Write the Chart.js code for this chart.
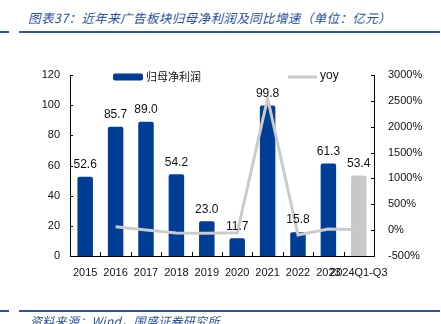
<!DOCTYPE html>
<html>
<head>
<meta charset="utf-8">
<script src="https://cdn.jsdelivr.net/npm/chart.js@4/dist/chart.umd.min.js"></script>
<style>
  html, body { margin:0; padding:0; background:#fff; }
  #wrap { position:relative; width:441px; height:324px; overflow:hidden; background:#fff; }
  #c { position:absolute; left:0; top:0; }
  .title { position:absolute; left:28px; top:8px; font:italic 12.5px "Noto Sans CJK SC", sans-serif; color:#2a4f9c; white-space:nowrap; letter-spacing:0.4px; }
  .src { position:absolute; left:30px; top:312px; font:italic 12px "Noto Sans CJK SC", sans-serif; color:#2a4f9c; white-space:nowrap; letter-spacing:0.3px; }
  .ln { position:absolute; height:2px; background:#2a56a6; }
</style>
</head>
<body>
<div id="wrap">
  <div class="title">图表37：近年来广告板块归母净利润及同比增速（单位：亿元）</div>
  <div class="ln" style="left:0;width:9px;top:31px"></div>
  <div class="ln" style="left:19px;width:421px;top:31px"></div>
  <canvas id="c" width="441" height="324"></canvas>
  <div class="ln" style="left:0;width:9px;top:310px"></div>
  <div class="ln" style="left:19px;width:421px;top:310px"></div>
  <div class="src">资料来源：Wind，国盛证券研究所</div>
</div>
<script>
const categories = ['2015','2016','2017','2018','2019','2020','2021','2022','2023','2024Q1-Q3'];
const profit = [52.6, 85.7, 89.0, 54.2, 23.0, 11.7, 99.8, 15.8, 61.3, 53.4];
const yoy = [null, 64, 4, -55, -58, -50, 2550, -95, 20, 10];
const barColors = ['#003d94','#003d94','#003d94','#003d94','#003d94','#003d94','#003d94','#003d94','#003d94','#c8c8c8'];
const seriesNames = ['归母净利润', 'yoy'];

const TICK_FONT = { family: 'Liberation Sans', size: 11 };

const overlay = {
  id: 'overlay',
  afterDatasetsDraw(chart) {
    const ctx = chart.ctx;
    const meta = chart.getDatasetMeta(0);
    ctx.save();
    ctx.font = '12px "Liberation Sans"';
    ctx.fillStyle = '#111';
    ctx.textAlign = 'center';
    ctx.textBaseline = 'middle';
    meta.data.forEach((bar, i) => {
      ctx.fillText(profit[i].toFixed(1), bar.x, bar.y - 12);
    });
    ctx.restore();
  },
  afterDraw(chart) {
    const ctx = chart.ctx;
    const ca = chart.chartArea;
    const x = chart.scales.x, y = chart.scales.y, y2 = chart.scales.y2;
    ctx.save();
    ctx.strokeStyle = '#000';
    ctx.lineWidth = 1;
    ctx.beginPath();
    y.ticks.forEach(t => {
      const py = Math.round(y.getPixelForValue(t.value)) + 0.5;
      ctx.moveTo(ca.left, py); ctx.lineTo(ca.left + 3, py);
    });
    y2.ticks.forEach(t => {
      const py = Math.round(y2.getPixelForValue(t.value)) + 0.5;
      ctx.moveTo(ca.right, py); ctx.lineTo(ca.right - 3, py);
    });
    for (let i = 0; i < categories.length - 1; i++) {
      const px = Math.round((x.getPixelForTick(i) + x.getPixelForTick(i + 1)) / 2) + 0.5;
      ctx.moveTo(px, ca.bottom); ctx.lineTo(px, ca.bottom - 4);
    }
    ctx.stroke();

    // legend
    ctx.fillStyle = barColors[0];
    ctx.beginPath();
    if (ctx.roundRect) ctx.roundRect(113, 73.5, 30, 7, 2); else ctx.rect(113, 73.5, 30, 7);
    ctx.fill();
    ctx.font = '11px "Noto Sans CJK SC"';
    ctx.fillStyle = '#111';
    ctx.textAlign = 'left';
    ctx.textBaseline = 'middle';
    ctx.fillText(seriesNames[0], 146, 77);
    ctx.strokeStyle = '#cbcbcb';
    ctx.lineWidth = 3;
    ctx.beginPath();
    ctx.moveTo(288, 77); ctx.lineTo(317, 77);
    ctx.stroke();
    ctx.font = '12px "Liberation Sans"';
    ctx.fillText(seriesNames[1], 320, 76);
    ctx.restore();
  }
};

new Chart(document.getElementById('c'), {
  type: 'bar',
  data: {
    labels: categories,
    datasets: [
      {
        type: 'bar', label: seriesNames[0], data: profit, yAxisID: 'y',
        backgroundColor: barColors, borderRadius: 2,
        barPercentage: 0.51, categoryPercentage: 1.0, order: 2
      },
      {
        type: 'line', label: seriesNames[1], data: yoy, yAxisID: 'y2',
        borderColor: '#cbcbcb', borderWidth: 3, pointRadius: 0, tension: 0,
        fill: false, spanGaps: false, order: 1
      }
    ]
  },
  options: {
    responsive: false,
    animation: false,
    devicePixelRatio: 1,
    layout: { padding: { top: 75, left: 0, right: 0, bottom: 0 } },
    plugins: { legend: { display: false }, tooltip: { enabled: false }, title: { display: false } },
    scales: {
      x: {
        offset: true,
        grid: { display: false, drawTicks: false },
        border: { display: true, color: '#000', width: 1 },
        ticks: { autoSkip: false, maxRotation: 0, minRotation: 0, padding: 10, color: '#111', font: TICK_FONT },
        afterFit(s) { s.height = 68; }
      },
      y: {
        position: 'left', min: 0, max: 120,
        grid: { display: false, drawTicks: false },
        border: { display: true, color: '#000', width: 1 },
        ticks: { stepSize: 20, padding: 10, color: '#111', font: TICK_FONT },
        afterFit(s) { s.width = 70; }
      },
      y2: {
        position: 'right', min: -500, max: 3000,
        grid: { display: false, drawTicks: false },
        border: { display: true, color: '#000', width: 1 },
        ticks: { stepSize: 500, padding: 14, color: '#111', font: TICK_FONT, callback: v => v + '%' },
        afterFit(s) { s.width = 67; }
      }
    }
  },
  plugins: [overlay]
});
</script>
</body>
</html>
